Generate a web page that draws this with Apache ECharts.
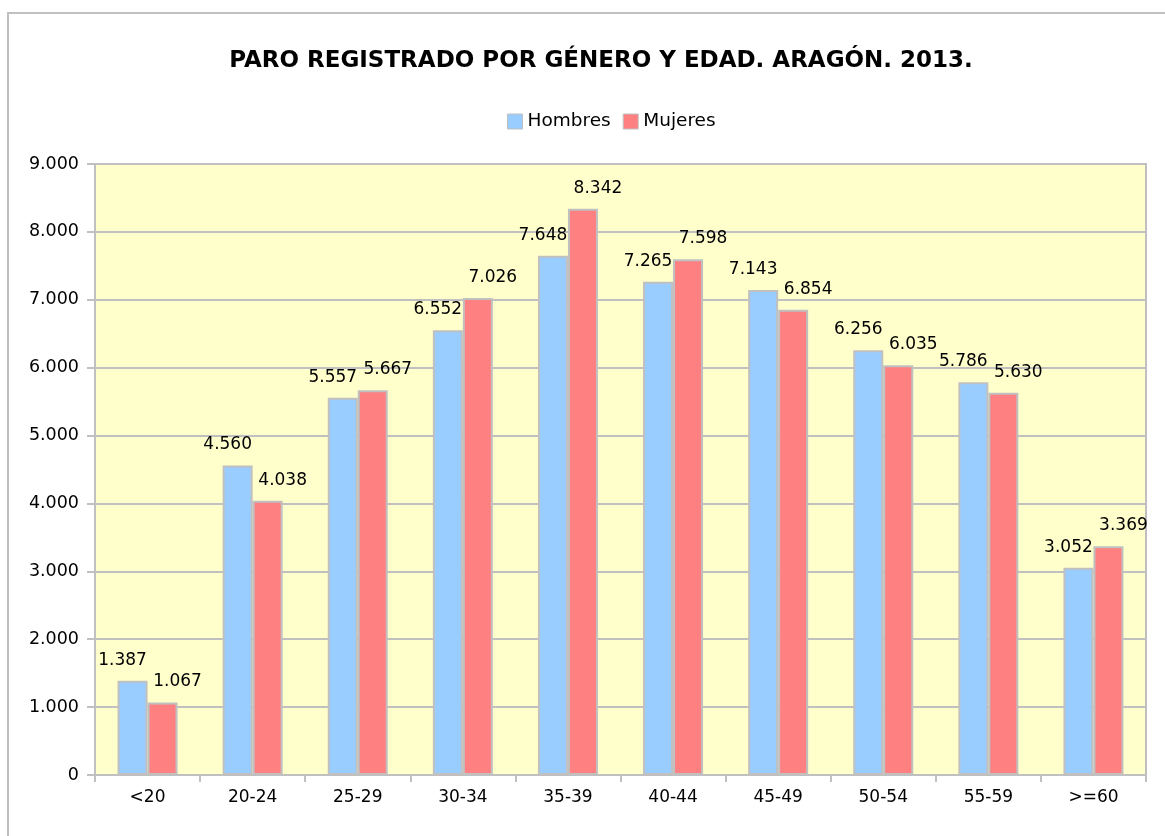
<!DOCTYPE html>
<html>
<head>
<meta charset="utf-8">
<script src="https://cdn.jsdelivr.net/npm/echarts@6/dist/echarts.min.js"></script>
<style>
  html, body { margin: 0; padding: 0; background: #fff; }
  #chart { width: 1165px; height: 836px; }
</style>
</head>
<body>
<div id="chart"></div>
<script>
var categories = ['<20', '20-24', '25-29', '30-34', '35-39', '40-44', '45-49', '50-54', '55-59', '>=60']
var hombres = [1387, 4560, 5557, 6552, 7648, 7265, 7143, 6256, 5786, 3052]
var mujeres = [1067, 4038, 5667, 7026, 8342, 7598, 6854, 6035, 5630, 3369]

var fontFamily = '"DejaVu Sans", Verdana, sans-serif'

function miles (v) {
  return String(v).replace(/\B(?=(\d{3})+(?!\d))/g, '.')
}

function barLabel (dx) {
  return {
    show: true,
    position: 'top',
    distance: 12,
    offset: [dx, 0],
    color: '#000',
    fontSize: 17,
    fontFamily: fontFamily,
    formatter: function (p) { return miles(p.value) }
  }
}

var option = {
  backgroundColor: '#fff',
  animation: false,
  textStyle: { fontFamily: fontFamily },
  graphic: [{
    type: 'rect',
    z: -10,
    shape: { x: 8, y: 13, width: 1200, height: 900 },
    style: { fill: 'none', stroke: '#c0c0c0', lineWidth: 2 }
  }],
  title: {
    text: 'PARO REGISTRADO POR GÉNERO Y EDAD. ARAGÓN. 2013.',
    left: 596,
    textAlign: 'center',
    top: 45,
    textStyle: { color: '#000', fontSize: 23, fontWeight: 'bold', fontFamily: fontFamily }
  },
  legend: {
    data: ['Hombres', 'Mujeres'],
    left: 502,
    top: 107,
    itemWidth: 15,
    itemHeight: 15,
    itemGap: 12,
    icon: 'rect',
    itemStyle: { borderColor: '#c0c0c0', borderWidth: 1 },
    textStyle: { color: '#000', fontSize: 18.5, fontFamily: fontFamily }
  },
  grid: {
    left: 95,
    right: 19,
    top: 164,
    bottom: 61,
    show: true,
    backgroundColor: '#ffffcc',
    borderColor: '#c0c0c0',
    borderWidth: 2
  },
  xAxis: {
    type: 'category',
    data: categories,
    axisLine: { lineStyle: { color: '#c0c0c0', width: 2 } },
    axisTick: { show: true, length: 7, interval: 0, lineStyle: { color: '#c0c0c0', width: 2 } },
    axisLabel: { color: '#000', fontSize: 17, margin: 14, interval: 0, fontFamily: fontFamily }
  },
  yAxis: {
    type: 'value',
    min: 0,
    max: 9000,
    interval: 1000,
    axisLine: { show: true, lineStyle: { color: '#c0c0c0', width: 2 } },
    axisTick: { show: true, length: 8, lineStyle: { color: '#c0c0c0', width: 2 } },
    splitLine: { lineStyle: { color: '#c0c0c0', width: 2 } },
    axisLabel: {
      color: '#000',
      fontSize: 17.5,
      margin: 16,
      fontFamily: fontFamily,
      formatter: function (v) { return miles(v) }
    }
  },
  series: [
    {
      name: 'Hombres',
      type: 'bar',
      data: hombres,
      barWidth: 30,
      barGap: '0%',
      itemStyle: { color: '#99ccff', borderColor: '#c0c0c0', borderWidth: 2 },
      label: barLabel(-10)
    },
    {
      name: 'Mujeres',
      type: 'bar',
      data: mujeres,
      barWidth: 30,
      barGap: '0%',
      itemStyle: { color: '#ff8080', borderColor: '#c0c0c0', borderWidth: 2 },
      label: barLabel(15)
    }
  ]
}

var myChart = echarts.init(document.getElementById('chart'))
myChart.setOption(option)
</script>
</body>
</html>
